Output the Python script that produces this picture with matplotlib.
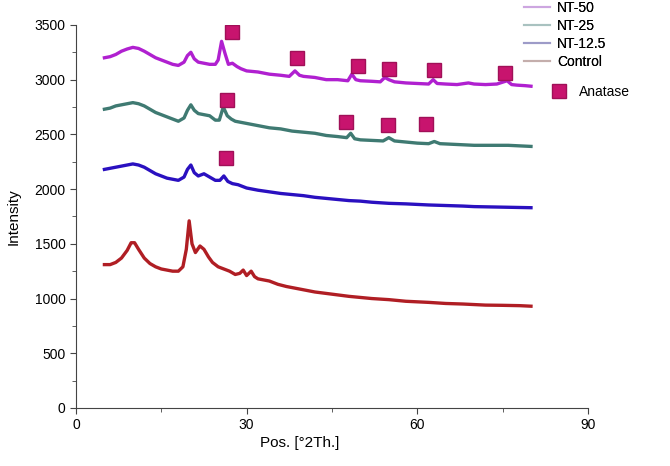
import numpy as np
import matplotlib
matplotlib.use('Agg')
import matplotlib.pyplot as plt
from matplotlib.lines import Line2D

plt.rcParams['font.family'] = ['Liberation Sans', 'DejaVu Sans']

# XRD patterns (2theta, intensity)
x_nt50 = [5, 6, 7, 8, 9, 10, 11, 12, 13, 14, 15, 16, 17, 18, 19, 19.6, 20.2, 20.8, 21.5, 22.5, 23.5, 24.5, 25.0, 25.6, 26.2, 26.8, 27.5, 28.3, 29, 30, 32, 34, 36, 37.5, 38.5, 39.3, 40, 42, 44, 46, 47.8, 48.5, 49.2, 50, 52, 53.5, 54.3, 55, 56, 58, 60, 62, 62.8, 63.5, 65, 67, 69, 70, 72, 74, 75.8, 76.6, 77.5, 79, 80]
y_nt50 = [3200, 3210, 3230, 3260, 3280, 3295, 3285, 3260, 3230, 3200, 3180, 3160, 3140, 3130, 3160, 3220, 3250, 3190, 3160, 3150, 3140, 3140, 3180, 3350, 3240, 3140, 3150, 3120, 3100, 3080, 3070, 3050, 3040, 3030, 3080, 3040, 3030, 3020, 3000, 3000, 2990, 3050, 3000, 2990, 2985, 2980, 3020, 3000, 2980, 2970, 2965, 2960, 3000, 2965, 2960, 2955, 2970, 2960, 2955, 2960, 2990, 2955, 2950, 2945, 2940]

x_nt25 = [5, 6, 7, 8, 9, 10, 11, 12, 13, 14, 15, 16, 17, 18, 19, 19.6, 20.2, 20.8, 21.5, 22.5, 23.5, 24.5, 25.2, 25.9, 26.6, 27.3, 28, 30, 32, 34, 36, 38, 40, 42, 44, 46, 47.6, 48.3, 49, 50, 52, 54, 55, 56, 58, 60, 62, 63, 64, 66, 68, 70, 72, 74, 76, 78, 80]
y_nt25 = [2730, 2740, 2760, 2770, 2780, 2790, 2780, 2760, 2730, 2700, 2680, 2660, 2640, 2620, 2650, 2720, 2770, 2720, 2690, 2680, 2670, 2630, 2630, 2750, 2670, 2640, 2620, 2600, 2580, 2560, 2550, 2530, 2520, 2510, 2490, 2480, 2470, 2510, 2460, 2450, 2445, 2440, 2470, 2440, 2430, 2420, 2415, 2435, 2415, 2410, 2405, 2400, 2400, 2400, 2400, 2395, 2390]

x_nt125 = [5, 6, 7, 8, 9, 10, 11, 12, 13, 14, 15, 16, 17, 18, 19, 19.6, 20.2, 20.8, 21.5, 22.5, 23.5, 24.5, 25.3, 26, 26.7, 27.5, 28.5, 30, 32, 34, 36, 38, 40, 42, 44, 46, 48, 50, 52, 55, 58, 60, 62, 65, 68, 70, 72, 75, 78, 80]
y_nt125 = [2180, 2190, 2200, 2210, 2220, 2230, 2220, 2200, 2170, 2140, 2120, 2100, 2090, 2080, 2110, 2180, 2220, 2150, 2120, 2140, 2110, 2080, 2080, 2120, 2070, 2050, 2040, 2010, 1990, 1975, 1960, 1950, 1940, 1925, 1915, 1905, 1895, 1890, 1880, 1870, 1865, 1860, 1855, 1850, 1845, 1840, 1838, 1835, 1832, 1830]

x_control = [5, 6, 7, 8, 9, 9.7, 10.3, 11, 12, 13, 14, 15, 16, 17, 18, 18.8, 19.4, 19.9, 20.4, 21, 21.8, 22.5, 23.3, 24, 25, 26, 27, 28, 28.8, 29.4, 30, 30.8, 31.4, 32, 33, 34, 35.5, 37, 40, 42, 45, 48, 50, 52, 55, 58, 60, 62, 65, 68, 70, 72, 75, 78, 80]
y_control = [1310, 1310, 1330, 1370, 1440, 1510, 1510, 1450, 1370, 1320, 1290, 1270, 1260, 1250, 1250, 1290, 1450, 1710, 1500, 1420, 1480, 1450, 1380, 1330, 1290, 1270, 1250, 1220, 1230, 1260, 1210, 1250, 1200, 1180, 1170, 1160, 1130, 1110, 1080, 1060, 1040, 1020, 1010, 1000, 990, 975, 970, 965, 955, 950, 945, 940, 938, 935, 930]

# anatase reflections marked above the peaks
anatase_x = [27.5, 38.9, 49.5, 55.1, 63.0, 75.4, 26.6, 47.4, 54.8, 61.6, 26.4]
anatase_y = [3437, 3199, 3126, 3099, 3090, 3062, 2815, 2614, 2587, 2596, 2285]

fig = plt.figure(figsize=(6.7, 4.66), dpi=100)
ax = fig.add_axes([0.1134, 0.1245, 0.764, 0.822])

ax.plot(x_nt50, y_nt50, color='#b020d0', lw=2.4, solid_joinstyle='round')
ax.plot(x_nt25, y_nt25, color='#3f7a72', lw=2.4, solid_joinstyle='round')
ax.plot(x_nt125, y_nt125, color='#2a10c0', lw=2.4, solid_joinstyle='round')
ax.plot(x_control, y_control, color='#b01e24', lw=2.4, solid_joinstyle='round')
ax.plot(anatase_x, anatase_y, ls='none', marker='s', ms=10, color='#c8146e', mec='#a01058')

ax.set_xlim(0, 90)
ax.set_ylim(0, 3500)
ax.set_xticks([0, 30, 60, 90])
ax.set_xticks([15, 45, 75], minor=True)
ax.set_yticks(np.arange(0, 3501, 500))
ax.set_yticks(np.arange(250, 3500, 500), minor=True)
for s in ['top', 'right']:
    ax.spines[s].set_visible(False)
for s in ['left', 'bottom']:
    ax.spines[s].set_color('#444444')
ax.tick_params(which='both', direction='out', color='#444444', labelsize=10)
ax.tick_params(which='major', length=4)
ax.tick_params(which='minor', length=3)

ax.set_xlabel('Pos. [°2Th.]', fontsize=11)
ax.set_ylabel('Intensity', fontsize=11)
ax.xaxis.set_label_coords(0.4375, -0.072)
ax.yaxis.set_label_coords(-0.108, 0.5)

handles = [Line2D([], [], color='#cda6e0', lw=1.5),
           Line2D([], [], color='#a9c2c0', lw=1.5),
           Line2D([], [], color='#9d9bc8', lw=1.5),
           Line2D([], [], color='#c4aeac', lw=1.5)]
leg = fig.legend(handles, ['NT-50', 'NT-25', 'NT-12.5', 'Control'], loc='upper left',
                 bbox_to_anchor=(0.763, 1.025), frameon=False, fontsize=10,
                 handlelength=1.9, handletextpad=0.5, labelspacing=0.3)
fig.add_artist(leg)
fig.legend([Line2D([], [], ls='none', marker='s', ms=10, color='#c8146e', mec='#a01058')],
           ['Anatase'], loc='upper left', bbox_to_anchor=(0.795, 0.845),
           frameon=False, fontsize=10, handletextpad=0.4)

fig.savefig('out.png', dpi=100)
